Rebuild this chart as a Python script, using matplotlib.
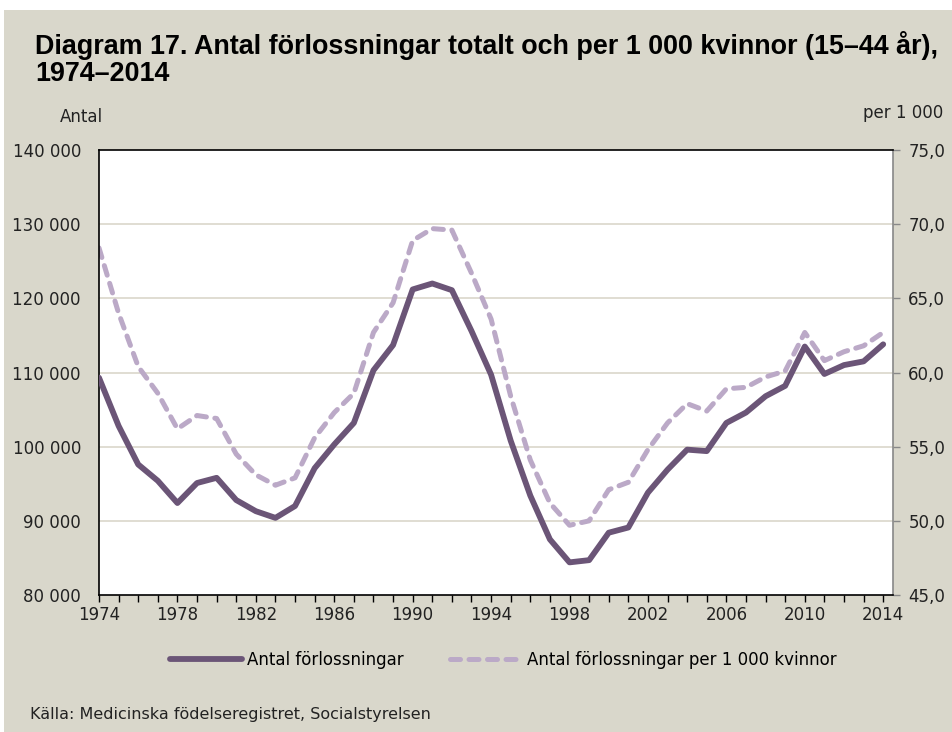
import matplotlib
matplotlib.use("Agg")
import matplotlib.pyplot as plt
from matplotlib.patches import Rectangle
from matplotlib.lines import Line2D
from matplotlib.ticker import FuncFormatter, MultipleLocator

"""Data read off the chart"""
years = list(range(1974, 2015))
antal = [109300, 102800, 97600, 95400, 92400, 95100, 95800, 92800, 91300, 90400,
         92000, 97100, 100300, 103200, 110300, 113700, 121200, 122000, 121100, 115600,
         109700, 100800, 93400, 87500, 84400, 84700, 88400, 89100, 93800, 96900,
         99600, 99400, 103200, 104600, 106800, 108200, 113500, 109800, 111000, 111500,
         113800]
per_1000 = [68.4, 64.0, 60.4, 58.6, 56.2, 57.1, 56.9, 54.5, 53.1, 52.4,
            52.9, 55.6, 57.3, 58.6, 62.7, 64.7, 68.9, 69.7, 69.6, 66.7,
            63.6, 58.4, 54.1, 51.2, 49.7, 50.0, 52.1, 52.6, 54.8, 56.6,
            57.9, 57.4, 58.9, 59.0, 59.7, 60.1, 62.7, 60.8, 61.4, 61.8,
            62.7]
year_ticks = list(range(1974, 2015, 4))

BG = "#d9d7cb"
DARK = "#6b5577"
LIGHT = "#bba9c7"
GRID = "#dddacf"
FONT = "DejaVu Sans"
FS = 12

fig = plt.figure(figsize=(9.53, 7.32), dpi=100)
fig.patch.set_facecolor("white")
fig.add_artist(Rectangle((4 / 953, 0), 1, 1 - 10 / 732, transform=fig.transFigure,
                         facecolor=BG, edgecolor="none", zorder=-10))

ax = fig.add_axes([99 / 953, 137 / 732, 794 / 953, 445 / 732])
ax2 = ax.twinx()

ax.plot(years, antal, color=DARK, lw=4.2, solid_capstyle="round", zorder=3)
ax2.plot(years, per_1000, color=LIGHT, lw=3.6, ls=(0, (2.0, 1.7)),
         dash_capstyle="round", zorder=2)
ax.set_zorder(ax2.get_zorder() + 1)
ax.patch.set_visible(False)
ax2.patch.set_visible(True)
ax2.patch.set_facecolor("white")

ax.set_xlim(1974, 2014.5)
ax.set_ylim(80000, 140000)
ax2.set_ylim(45, 75)

ax.set_yticks(range(80000, 140001, 10000))
ax.yaxis.set_major_formatter(FuncFormatter(lambda v, p: f"{int(v):,}".replace(",", " ")))
ax2.set_yticks(range(45, 76, 5))
ax2.yaxis.set_major_formatter(FuncFormatter(lambda v, p: f"{v:.1f}".replace(".", ",")))
ax.set_xticks(year_ticks)
ax.xaxis.set_minor_locator(MultipleLocator(1))

for y in range(90000, 140000, 10000):
    ax2.axhline(45 + (y - 80000) / 2000, color=GRID, lw=1.3, zorder=0)

for s in ["left", "bottom", "top"]:
    ax.spines[s].set_color("black")
    ax.spines[s].set_linewidth(1.2)
ax.spines["right"].set_visible(False)
for s in ["left", "bottom", "top"]:
    ax2.spines[s].set_visible(False)
ax2.spines["right"].set_color("#888888")
ax2.spines["right"].set_linewidth(1.2)

ax.tick_params(axis="y", length=0, pad=13, labelsize=FS, labelcolor="#222222")
ax.tick_params(axis="x", which="both", length=5, width=1, direction="out",
               labelsize=FS, labelcolor="#222222", pad=3)
ax2.tick_params(axis="y", length=5, width=1, color="#888888", direction="out",
                pad=6, labelsize=FS, labelcolor="#222222")
for lab in ax.get_xticklabels() + ax.get_yticklabels() + ax2.get_yticklabels():
    lab.set_fontfamily(FONT)

fig.text(35 / 953, 1 - 45 / 732,
         "Diagram 17. Antal förlossningar totalt och per 1 000 kvinnor (15\u201344 år),",
         fontsize=19.4, fontweight="bold", family="Liberation Sans", va="center")
fig.text(35 / 953, 1 - 74 / 732, "1974\u20132014",
         fontsize=19.4, fontweight="bold", family="Liberation Sans", va="center")
fig.text(60 / 953, 1 - 117 / 732, "Antal", fontsize=FS, family=FONT, va="center",
         color="#222222")
fig.text(943 / 953, 1 - 113 / 732, "per 1 000", fontsize=FS, family=FONT,
         va="center", ha="right", color="#222222")

handles = [Line2D([], [], color=DARK, lw=4.2, solid_capstyle="round"),
           Line2D([], [], color=LIGHT, lw=3.6, ls=(0, (2.0, 1.7)),
                  dash_capstyle="round")]
fig.legend(handles, ["Antal förlossningar", "Antal förlossningar per 1 000 kvinnor"],
           loc="center", bbox_to_anchor=(0.528, 1 - 660 / 732), ncol=2, frameon=False,
           handlelength=4.3, handletextpad=0.3, columnspacing=2.8,
           prop={"family": FONT, "size": FS})

fig.text(30 / 953, 1 - 715 / 732, "Källa: Medicinska födelseregistret, Socialstyrelsen",
         fontsize=11.5, family=FONT, va="center", color="#222222")

fig.savefig("out.png", dpi=100, facecolor=fig.get_facecolor())
